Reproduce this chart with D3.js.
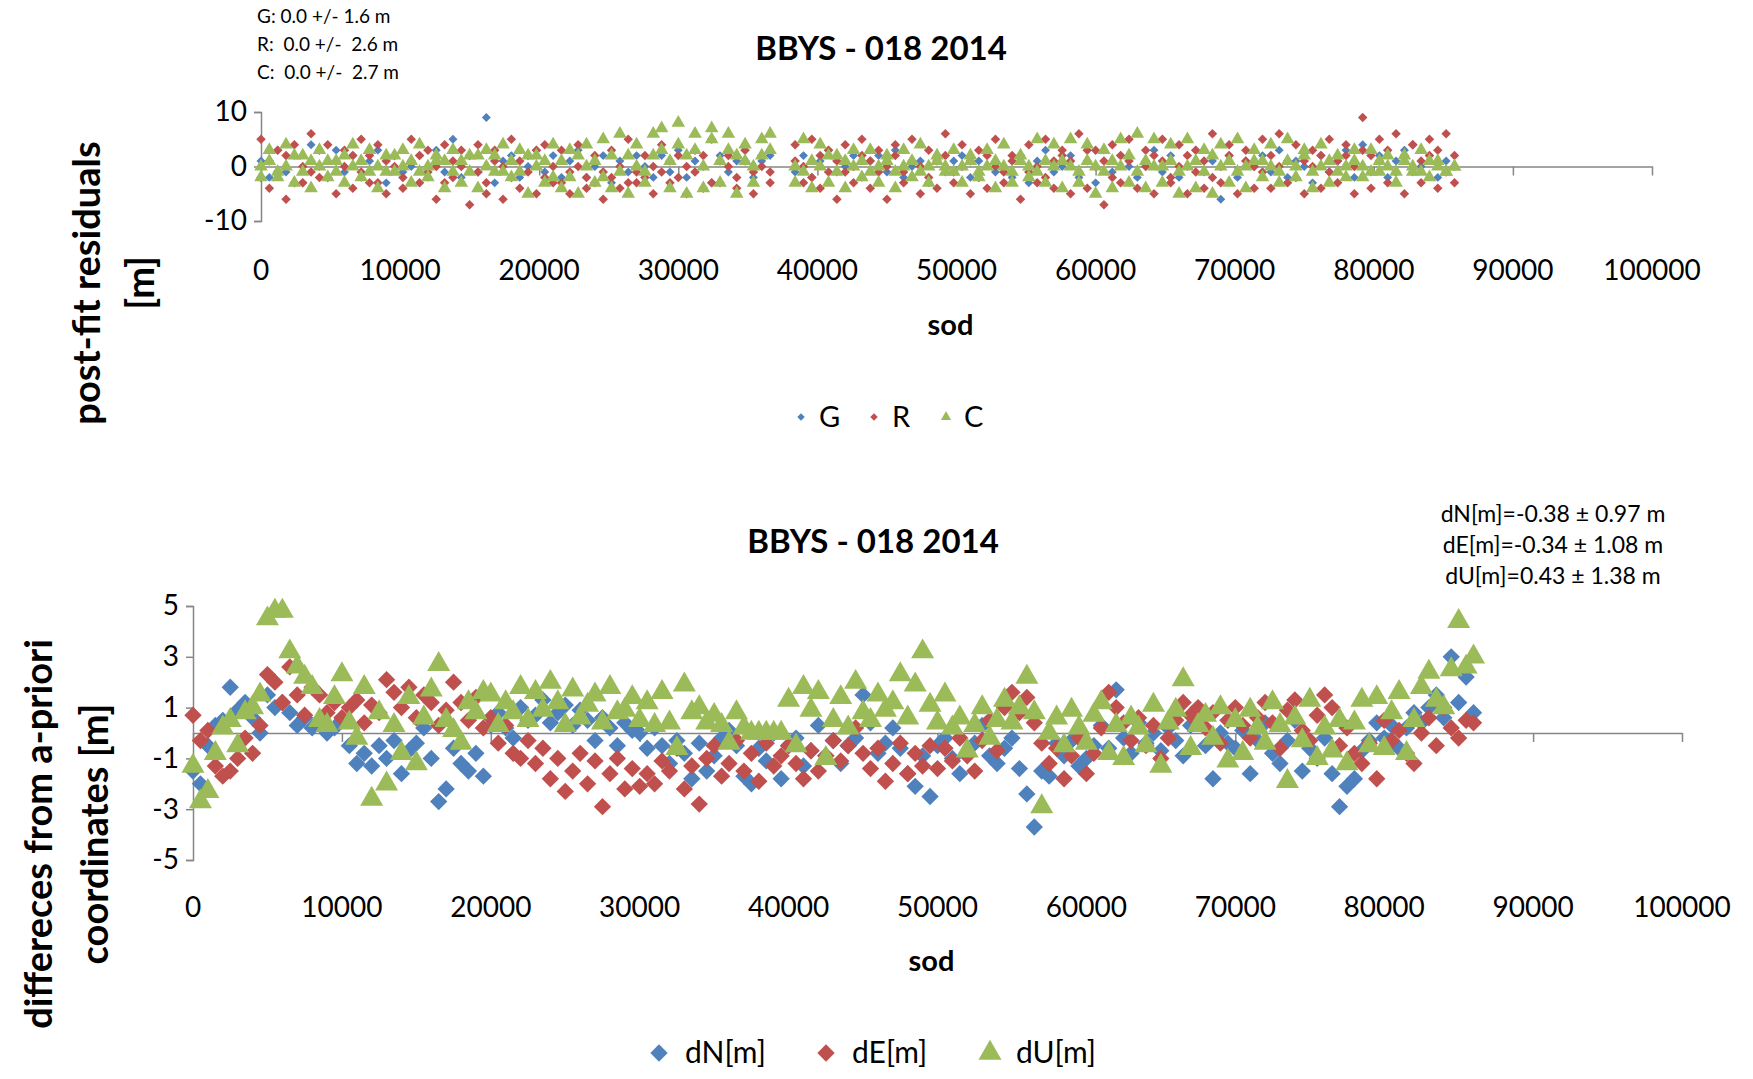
<!DOCTYPE html>
<html>
<head>
<meta charset="utf-8">
<script src="https://cdn.jsdelivr.net/npm/d3@7"></script>
<style>
  body { margin: 0; background: #fff; }
  svg text { font-family: Lato, "Open Sans", sans-serif; fill: #000; }
</style>
</head>
<body>
<svg id="chart" width="1753" height="1079"></svg>
<script>
// ---- top chart: post-fit residuals, one value per 600 s epoch ----
const topStep = 600;
const resG = [
  1,-2,3,-1,2,-3,4,0,-2,3,-1,2,
  -2,1,3,-3,2,-1,0,2,-2,3,-1,5,
  -2,2,-1,9,-3,1,2,-2,0,3,-1,2,
  -2,1,3,-2,0,2,-3,1,-1,2,0,-2,
  2,-1,3,-2,1,0,-3,2,-1,1,3,-2,
  1,2,null,null,-1,2,-2,1,3,-1,0,2,
  -2,1,2,-1,3,-2,0,1,-3,2,-1,1,
  2,-2,1,3,-1,0,-2,2,-3,1,3,-1,
  0,2,-2,1,-3,3,-1,2,0,-2,1,3,
  -1,2,-2,0,3,-1,1,-6,2,-2,1,0,
  2,-1,3,-2,1,0,-3,2,-1,1,3,-2,
  4,-1,2,-2,1,3,-1,0,2,-2,1,0
];
const resR = [
  5,-4,3,-6,4,-3,6,-2,4,-5,3,-4,
  5,-3,4,-5,2,-4,5,-3,3,-6,4,-2,
  3,-7,4,-5,3,-6,5,-4,2,-5,4,-3,
  3,-5,4,-4,2,-6,3,-4,5,-3,2,-5,
  4,-3,2,-5,3,-4,5,-3,2,-4,3,-5,
  2,-3,null,null,4,-3,5,-4,3,-6,4,-3,
  5,-4,3,-6,4,-3,5,-5,3,-4,6,-3,
  4,-5,3,-4,5,-3,2,-6,4,-3,5,-4,
  3,-5,6,-4,3,-7,4,-3,5,-4,3,-5,
  5,-3,4,-5,3,-4,6,-3,4,-5,3,-4,
  5,-4,6,-3,4,-5,3,-4,5,-3,4,-5,
  9,-4,5,-3,6,-5,4,-3,5,-4,6,-3
];
// second satellite of each system in the same epochs
const resR2 = [
  -2,1,-1,2,-3,0,-1,3,-2,1,0,2,
  -1,2,-3,1,0,-2,1,2,-1,0,-3,1,
  0,2,-1,-3,1,0,-2,1,-1,3,-2,0,
  -3,-1,0,-2,-3,-1,-2,0,-3,-1,-2,0,
  -1,1,-2,0,-1,2,-3,1,0,-2,1,-1,
  0,-1,null,null,1,0,-2,2,-1,1,-1,0,
  2,1,-1,0,2,-1,1,0,-2,1,2,-1,
  0,1,-2,2,0,-1,1,2,-1,0,-2,1,
  2,1,-1,3,0,1,-2,2,1,-1,0,2,
  1,-2,0,2,-1,1,-2,0,2,-1,1,0,
  -1,2,0,1,-2,1,0,2,-1,1,2,0,
  3,2,1,3,-1,2,4,1,2,3,-1,2
];
const resC = [
  -2,3,-1,4,-3,2,-4,3,-2,1,-3,4,
  -2,3,-4,2,-1,3,-3,4,-2,1,-4,3,
  -3,2,-4,3,-1,4,-2,3,-5,2,-3,4,
  -4,3,-5,4,-3,5,-4,6,-5,4,-3,6,
  7,-4,8,-5,6,-4,7,-3,6,-5,4,-3,
  5,6,null,null,-3,5,-4,4,-3,2,-4,3,
  -2,3,-3,2,-4,3,-2,4,-3,2,-1,3,
  -3,2,-2,3,-4,4,-3,2,-2,5,-3,4,
  -4,5,-3,4,-5,3,-4,5,-3,6,-4,5,
  -3,4,-5,5,-4,3,-5,4,-3,5,-4,3,
  -2,4,-3,5,-2,3,-4,4,-3,2,-2,3,
  -2,3,-1,2,-3,2,-1,3,-2,1,-1,0
];
const resC2 = [
  0,1,-2,0,2,-1,1,0,1,-1,2,0,
  1,-1,0,-1,2,0,1,-1,0,2,1,-1,
  1,-1,2,0,2,-1,1,-1,2,0,1,-2,
  1,-2,2,0,1,-2,2,-1,2,0,-1,2,
  3,1,4,2,3,0,5,1,3,2,1,0,
  2,3,null,null,0,-1,1,0,2,-1,1,0,
  1,-1,0,1,-1,0,1,-1,0,1,0,-1,
  0,1,-1,0,1,0,-1,1,0,-1,1,0,
  1,0,-1,1,0,-1,1,0,2,-1,1,0,
  0,1,-1,0,1,-1,2,0,1,-1,0,1,
  1,0,-1,1,0,2,-1,0,1,-1,0,1,
  0,-1,1,0,-1,1,0,-1,1,0,-1,0
];
const topStats = ["G: 0.0 +/- 1.6 m", "R:  0.0 +/-  2.6 m", "C:  0.0 +/-  2.7 m"];

// ---- bottom chart: coordinate differences, one value per 500 s epoch ----
const botStep = 500;
const dN = [
  -1.5,-2,-0.5,0.3,0.5,1.8,0.9,1.2,0.6,0,1.5,1,1.2,0.8,0.3,0.6,0.2,0.5,0,0.2,
  0.5,-0.5,-1.2,-0.8,-1.3,-0.5,-1,-0.3,-1.6,-0.7,-0.4,0.2,-1,-2.7,-2.2,-0.6,-1.2,-1.5,-0.8,-1.7,
  0.3,0.8,0.2,-0.2,1,0.5,0.7,1.3,0.4,0.8,1.1,0.3,0.9,0.5,-0.3,0.6,0.2,-0.5,0.4,0.1,
  0,-0.6,0.2,-0.5,-1.2,-0.3,-0.8,-1.8,-0.4,-1.5,-0.9,-0.2,0.1,-0.5,-1.7,-2,-0.6,-1.1,0,-1.8,
  -0.5,-0.2,-1.3,-0.7,0.3,-0.9,-0.3,-1.2,-0.5,-0.2,1.5,0.4,-0.8,-0.4,0.2,-0.6,-1.6,-2.1,-0.9,-2.5,
  -0.5,-0.2,-1,-1.6,-0.8,-0.4,0.3,-0.9,-1.2,-0.6,-0.2,-1.4,-2.4,-3.7,-1.5,-1.7,-0.4,-0.9,-0.3,-1.3,
  -1,-0.5,0.3,-0.6,1.7,-0.2,-0.8,0.4,-0.4,0,-0.7,0.2,-0.3,-0.9,0.3,0.6,-0.5,-1.8,0,-0.4,
  -0.6,0.1,-1.6,-0.3,0.4,-0.8,-1.2,-0.3,0.5,-1.5,-0.6,-1,-0.2,-1.6,-2.9,-2.1,-1.8,-0.7,-0.3,0.4,
  -0.2,0.3,-0.6,0.2,0.8,0.4,1,1.5,0.6,3,1.2,2.2,0.8
];
const dE = [
  0.7,-0.3,0.1,-1.3,-1.7,-1.5,-1,-0.2,-0.8,0.3,2.3,2,1.2,2.6,1.5,0.7,1.8,1.5,0.8,1.2,
  0.6,1,1.3,0.4,1.1,0.8,2.1,1.6,1,1.8,0.6,1.5,1.2,0.3,0.9,2,1.2,0.5,1.4,0.2,
  0.6,-0.4,0.3,-0.8,-1,-0.3,-1.2,-0.6,-1.8,-1,-2.3,-1.5,-0.8,-2,-1.1,-2.9,-1.6,-1,-2.2,-1.4,
  -2.1,-1.6,-2,-1.1,-1.5,-0.6,-2.2,-1.3,-2.8,-1,-0.5,-1.7,-1.2,-0.3,-1.5,-0.8,-1.9,-0.4,-1.3,-0.9,
  -0.5,-1.2,-1.8,-0.7,-1.5,-0.9,-0.3,-1.1,-0.5,0.2,-0.8,-1.4,-0.6,-1.9,-1.2,-0.4,-1.6,-0.8,-1.3,-0.5,
  -1.4,-0.6,-1.1,-0.2,-0.9,-1.5,-0.3,0.5,-0.7,1,1.6,0.8,1.4,0.4,-0.4,-1.2,-0.6,-1.8,-0.9,-0.2,
  -1.6,-0.8,0.2,1.6,1,0.4,-0.3,0.6,-0.5,0.3,-1,-0.2,0.5,1.2,0.7,1,0.2,0.8,-0.4,0.5,
  1,0.3,-0.2,0.6,1.2,0.4,-0.6,0.9,1.3,0.1,-0.3,0.7,1.5,1,-0.5,0.2,-0.8,-1.2,-0.4,-1.8,
  0.5,-0.3,0.1,-0.8,-1.2,0,0.6,-0.5,1,0.2,-0.2,0.5,0.4
];
const dU = [
  -1.3,-2.7,-2.3,-0.8,0.2,0.5,-0.5,0.8,1,1.5,4.5,4.8,4.8,3.2,2.6,2.2,1.8,0.5,0.3,1.4,
  2.3,0.4,-0.2,1.8,-2.6,0.8,-2,0.3,-0.8,1.4,-1.2,0.6,1.7,2.7,0.5,0.1,-0.4,1.2,0.8,1.6,
  1.5,0.3,1.2,0.8,1.8,0.5,1.6,0.9,2,1.2,0.3,1.7,0.6,1.1,1.5,0.4,1.8,0.8,0.9,1.4,
  0.5,1.2,0.3,1.6,0.4,-0.6,1.9,0.8,1,0.4,0.7,0.3,-0.4,0.8,0.2,0,0,0,0,0,
  1.3,-0.5,1.8,0.9,1.6,-1,0.5,1.4,0.2,2,0.8,0.5,1.5,0.9,1.2,2.3,0.6,1.9,3.2,1.1,
  0.4,1.5,0.2,0.6,-0.7,0.3,1,-0.2,0.5,1.3,0.4,1,2.2,0.8,-2.9,0,0.6,-0.5,0.9,0.2,
  -0.4,0.7,1.2,-0.8,0.3,-1,0.6,0.2,-0.5,1.1,-1.3,0.4,0.9,2.1,-0.6,0.3,0.7,-0.2,1,-1.1,
  0.5,-0.8,0.9,0.2,-0.4,1.2,0.3,-1.9,0.6,-0.3,1.3,-1,0.2,-0.7,0.5,-1.2,0.4,1.3,-0.5,1.4,
  -0.6,0.8,1.6,-0.8,0.5,1.8,2.4,1.3,1,2.5,4.4,2.6,3
];
const botStats = ["dN[m]=-0.38 \u00b1 0.97 m", "dE[m]=-0.34 \u00b1 1.08 m", "dU[m]=0.43 \u00b1 1.38 m"];

const xTicks = d3.range(0, 100001, 10000);
const blue = "#4F81BD", red = "#C0504D", green = "#9BBB59", axisCol = "#868686";

const svg = d3.select("#chart");

// symbol helpers: excel style diamond = rotated square
function marker(g, type, size, color, x, y) {
  const sym = type === "tri" ? d3.symbolTriangle : d3.symbolSquare;
  const rot = type === "tri" ? 0 : 45;
  g.append("path")
    .attr("d", d3.symbol().type(sym).size(size)())
    .attr("transform", `translate(${x},${y}) rotate(${rot})`)
    .attr("fill", color);
}

function drawPanel(opt) {
  const x = d3.scaleLinear().domain([0, 100000]).range([opt.x0, opt.x1]);
  const y = d3.scaleLinear().domain(opt.yDomain).range([opt.yBot, opt.yTop]);
  const g = svg.append("g");

  // y axis
  const ya = g.append("g").attr("transform", `translate(${opt.x0},0)`)
    .call(d3.axisLeft(y).tickValues(opt.yTicks).tickSize(7).tickFormat(d => String(d)));
  ya.select(".domain").attr("stroke", axisCol).attr("stroke-width", 1.5);
  ya.selectAll(".tick line").attr("stroke", axisCol).attr("stroke-width", 1.5);
  ya.selectAll(".tick text").attr("font-size", opt.tickFont).attr("x", -14)
    .style("font-family", "Lato, sans-serif");

  // x axis line at zero, labels placed low
  const xa = g.append("g").attr("transform", `translate(0,${y(0)})`)
    .call(d3.axisBottom(x).tickValues(xTicks).tickSize(9).tickSizeOuter(0).tickFormat(""));
  xa.select(".domain").attr("stroke", axisCol).attr("stroke-width", 1.5);
  xa.selectAll(".tick line").attr("stroke", axisCol).attr("stroke-width", 1.5);
  g.selectAll(".xl").data(xTicks).enter().append("text")
    .attr("x", d => x(d)).attr("y", opt.xLabelY)
    .attr("text-anchor", "middle").attr("font-size", opt.tickFont).text(d => d);

  // series
  opt.series.forEach(s => {
    const sg = g.append("g");
    s.values.forEach((v, i) => {
      if (v === null) return;
      marker(sg, s.type, s.size, s.color, x(i * opt.step), y(v));
    });
  });

  g.append("text").attr("x", opt.titleX).attr("y", opt.titleY).attr("text-anchor", "middle")
    .attr("font-size", 33).attr("font-weight", "bold").text("BBYS - 018 2014");
  g.append("text").attr("x", (opt.x0 + opt.x1) / 2 - 6).attr("y", opt.sodY).attr("text-anchor", "middle")
    .attr("font-size", 29).attr("font-weight", "bold").text("sod");
  return { x, y };
}

drawPanel({
  x0: 261, x1: 1652, yTop: 112, yBot: 221, yDomain: [-10, 10], yTicks: [-10, 0, 10],
  tickFont: 28, xLabelY: 280, step: topStep, titleX: 881, titleY: 60, sodY: 335,
  series: [
    { values: resG, type: "dia", size: 40, color: blue },
    { values: resR, type: "dia", size: 45, color: red },
    { values: resR2, type: "dia", size: 45, color: red },
    { values: resC, type: "tri", size: 80, color: green },
    { values: resC2, type: "tri", size: 80, color: green }
  ]
});

drawPanel({
  x0: 193, x1: 1682, yTop: 606, yBot: 860, yDomain: [-5, 5], yTicks: [-5, -3, -1, 1, 3, 5],
  tickFont: 28, xLabelY: 917, step: botStep, titleX: 873, titleY: 553, sodY: 971,
  series: [
    { values: dN, type: "dia", size: 150, color: blue },
    { values: dE, type: "dia", size: 150, color: red },
    { values: dU, type: "tri", size: 230, color: green }
  ]
});

// stats boxes
svg.selectAll(".ts").data(topStats).enter().append("text")
  .attr("x", 257).attr("y", (d, i) => 23 + i * 28).attr("font-size", 19)
  .style("white-space", "pre").attr("xml:space", "preserve").text(d => d);
svg.selectAll(".bs").data(botStats).enter().append("text")
  .attr("x", 1553).attr("y", (d, i) => 522 + i * 31).attr("text-anchor", "middle").attr("font-size", 23)
  .text(d => d);

// y axis titles
function vlabel(lines, cx, cy, gap) {
  lines.forEach((t, i) => {
    svg.append("text").attr("transform", `translate(${cx + i * gap},${cy}) rotate(-90)`)
      .attr("text-anchor", "middle").attr("font-size", 38).attr("font-weight", "bold").text(t);
  });
}
vlabel(["post-fit residuals", "[m]"], 100, 283, 54);
vlabel(["differeces from a-priori", "coordinates [m]"], 52, 834, 56);

// legends
function legend(items, y, font) {
  items.forEach(it => {
    const g = svg.append("g");
    marker(g, it.type, it.size, it.color, it.x, y);
    g.append("text").attr("x", it.x + it.gap).attr("y", y + 10).attr("font-size", font).text(it.label);
  });
}
legend([
  { label: "G", type: "dia", size: 28, color: blue, x: 801, gap: 18 },
  { label: "R", type: "dia", size: 28, color: red, x: 874, gap: 18 },
  { label: "C", type: "tri", size: 45, color: green, x: 946, gap: 18 }
], 417, 29);
legend([
  { label: "dN[m]", type: "dia", size: 150, color: blue, x: 659, gap: 26 },
  { label: "dE[m]", type: "dia", size: 150, color: red, x: 826, gap: 26 },
  { label: "dU[m]", type: "tri", size: 230, color: green, x: 990, gap: 26 }
], 1053, 30);
</script>
</body>
</html>
